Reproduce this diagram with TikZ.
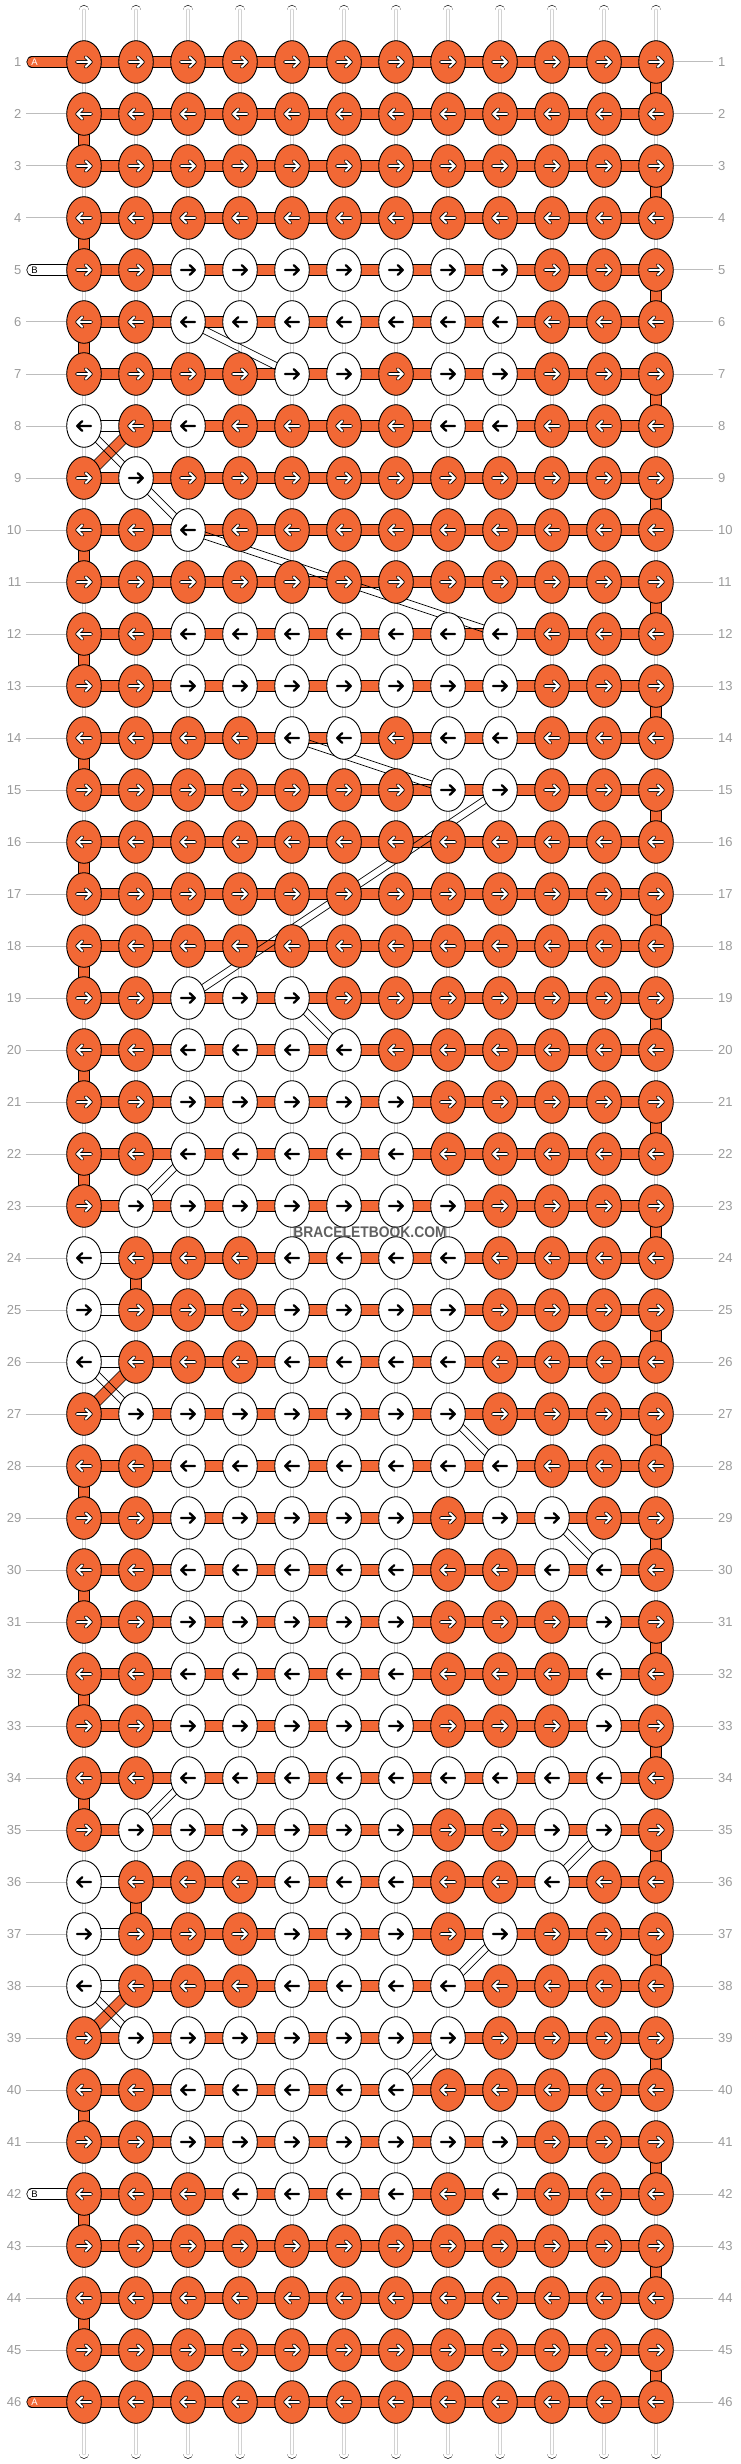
\documentclass[tikz,border=0pt]{standalone}
\usepackage{fontspec}
\setmainfont{Liberation Sans}
\usetikzlibrary{shapes.geometric,calc}
\definecolor{orng}{HTML}{F26835}
\definecolor{lblg}{HTML}{9A9A9A}
\definecolor{lineg}{HTML}{BDBDBD}
\definecolor{wmk}{HTML}{444444}
\pgfdeclarelayer{bg}
\pgfdeclarelayer{mid}
\pgfsetlayers{bg,mid,main}
\tikzset{
  knotO/.style={ellipse, draw=black, line width=0.9pt, fill=orng, minimum width=34.6pt, minimum height=42.6pt, inner sep=0pt},
  knotW/.style={ellipse, draw=black, line width=0.9pt, fill=white, minimum width=34.6pt, minimum height=42.6pt, inner sep=0pt},
  arrW/.style={draw=black, line width=2.3pt, line cap=round, line join=round},
  arrOut/.style={draw=black, line width=3.7pt, line cap=round, line join=round},
  arrIn/.style={draw=white, line width=2.0pt, line cap=round, line join=round},
  warp/.style={draw=black, line width=0.7pt, double=white, double distance=9.2pt},
  warpin/.style={draw=gray!35, line width=0.5pt, double=white, double distance=2.4pt},
  obar/.style={draw=black, line width=0.8pt, double=orng, double distance=9.6pt},
  wbar/.style={draw=black, line width=0.8pt, double=white, double distance=9.6pt},
  dline/.style={draw=black, line width=0.7pt},
  gline/.style={draw=lineg, line width=1pt},
  lab/.style={text=lblg, font=\fontsize{13}{15}\selectfont, inner sep=0pt},
  tabtxt/.style={font=\fontsize{9.5}{11}\selectfont, inner sep=0pt},
}
\begin{document}
\begin{tikzpicture}[x=1pt,y=-1pt]
\useasboundingbox (0,0) rectangle (740,2464);
% knots
\foreach \pat [count=\ri] in {
{0,0,0,0,0,0,0,0,0,0,0,0},
{0,0,0,0,0,0,0,0,0,0,0,0},
{0,0,0,0,0,0,0,0,0,0,0,0},
{0,0,0,0,0,0,0,0,0,0,0,0},
{0,0,1,1,1,1,1,1,1,0,0,0},
{0,0,1,1,1,1,1,1,1,0,0,0},
{0,0,0,0,1,1,0,1,1,0,0,0},
{1,0,1,0,0,0,0,1,1,0,0,0},
{0,1,0,0,0,0,0,0,0,0,0,0},
{0,0,1,0,0,0,0,0,0,0,0,0},
{0,0,0,0,0,0,0,0,0,0,0,0},
{0,0,1,1,1,1,1,1,1,0,0,0},
{0,0,1,1,1,1,1,1,1,0,0,0},
{0,0,0,0,1,1,0,1,1,0,0,0},
{0,0,0,0,0,0,0,1,1,0,0,0},
{0,0,0,0,0,0,0,0,0,0,0,0},
{0,0,0,0,0,0,0,0,0,0,0,0},
{0,0,0,0,0,0,0,0,0,0,0,0},
{0,0,1,1,1,0,0,0,0,0,0,0},
{0,0,1,1,1,1,0,0,0,0,0,0},
{0,0,1,1,1,1,1,0,0,0,0,0},
{0,0,1,1,1,1,1,0,0,0,0,0},
{0,1,1,1,1,1,1,1,0,0,0,0},
{1,0,0,0,1,1,1,1,0,0,0,0},
{1,0,0,0,1,1,1,1,0,0,0,0},
{1,0,0,0,1,1,1,1,0,0,0,0},
{0,1,1,1,1,1,1,1,0,0,0,0},
{0,0,1,1,1,1,1,1,1,0,0,0},
{0,0,1,1,1,1,1,0,1,1,0,0},
{0,0,1,1,1,1,1,0,0,1,1,0},
{0,0,1,1,1,1,1,0,0,0,1,0},
{0,0,1,1,1,1,1,0,0,0,1,0},
{0,0,1,1,1,1,1,0,0,0,1,0},
{0,0,1,1,1,1,1,1,1,1,1,0},
{0,1,1,1,1,1,1,0,0,1,1,0},
{1,0,0,0,1,1,1,0,0,1,0,0},
{1,0,0,0,1,1,1,0,1,0,0,0},
{1,0,0,0,1,1,1,1,0,0,0,0},
{0,1,1,1,1,1,1,1,0,0,0,0},
{0,0,1,1,1,1,1,0,0,0,0,0},
{0,0,1,1,1,1,1,1,1,0,0,0},
{0,0,0,1,1,1,1,0,1,0,0,0},
{0,0,0,0,0,0,0,0,0,0,0,0},
{0,0,0,0,0,0,0,0,0,0,0,0},
{0,0,0,0,0,0,0,0,0,0,0,0},
{0,0,0,0,0,0,0,0,0,0,0,0}} {
  \foreach \kk [count=\ci] in \pat {
    \pgfmathsetmacro\xx{84+52*(\ci-1)}
    \pgfmathsetmacro\yy{62+52*(\ri-1)}
    \ifodd\ri\relax \def\sg{1}\else\def\sg{-1}\fi
    \ifnum\kk=1\relax
      \node[knotW] (k-\ri-\ci) at (\xx,\yy) {};
      \begin{scope}[shift={(k-\ri-\ci.center)}, xscale=\sg]
        \draw[arrW] (-7,0) -- (6.5,0) (1.8,-4.8) -- (6.8,0) -- (1.8,4.8);
      \end{scope}
    \else
      \node[knotO] (k-\ri-\ci) at (\xx,\yy) {};
      \begin{scope}[shift={(k-\ri-\ci.center)}, xscale=\sg]
        \draw[arrOut] (-7,0) -- (6.5,0) (1.8,-4.8) -- (6.8,0) -- (1.8,4.8);
        \draw[arrIn] (-7,0) -- (6.5,0) (1.8,-4.8) -- (6.8,0) -- (1.8,4.8);
      \end{scope}
    \fi
  }
}
\begin{pgfonlayer}{bg}
% top and bottom string ends
\foreach \ci in {1,...,12} {
  \pgfmathsetmacro\xx{84+52*(\ci-1)}
  \coordinate (top-\ci) at (\xx,10.3);
  \coordinate (bot-\ci) at (\xx,2453.5);
  \draw[warp, line cap=round] (top-\ci) -- (k-1-\ci.center);
  \draw[warpin, line cap=round] (top-\ci) -- (k-1-\ci.center);
  \draw[warp, line cap=round] (bot-\ci) -- (k-46-\ci.center);
  \draw[warpin, line cap=round] (bot-\ci) -- (k-46-\ci.center);
}
% vertical warp segments
\foreach \ri in {1,...,45} {
  \pgfmathtruncatemacro\rn{\ri+1}
  \foreach \ci in {1,...,12} {
    \draw[warp] (k-\ri-\ci.center) -- (k-\rn-\ci.center);
    \draw[warpin] (k-\ri-\ci.center) -- (k-\rn-\ci.center);
  }
}
% horizontal bars
\foreach \ri in {1,...,46} {
  \foreach \ci in {1,...,11} {
    \pgfmathtruncatemacro\cn{\ci+1}
    \draw[obar] (k-\ri-\ci.center) -- (k-\ri-\cn.center);
  }
}
\foreach \ri in {8,24,25,26,36,37,38} {
  \draw[wbar] (k-\ri-1.center) -- (k-\ri-2.center);
}
% turning segments of thread A
\foreach \ri in {1,3,...,45} {
  \pgfmathtruncatemacro\rn{\ri+1}
  \draw[obar] (k-\ri-12.center) -- (k-\rn-12.center);
}
\foreach \ri in {2,4,6,10,12,14,16,18,20,22,28,30,32,34,40,42,44} {
  \pgfmathtruncatemacro\rn{\ri+1}
  \draw[obar] (k-\ri-1.center) -- (k-\rn-1.center);
}
\foreach \ri in {24,36} {
  \pgfmathtruncatemacro\rn{\ri+1}
  \draw[obar] (k-\ri-2.center) -- (k-\rn-2.center);
}
\foreach \ri in {8,26,38} {
  \pgfmathtruncatemacro\rn{\ri+1}
  \draw[obar] (k-\ri-2.center) -- (k-\rn-1.center);
}
% tabs
\coordinate (tabA1) at (32,62);
\coordinate (tabA46) at (32,2402);
\coordinate (tabB5) at (32,270);
\coordinate (tabB42) at (32,2194);
\draw[obar, line cap=round] (tabA1) -- (k-1-1.center);
\draw[obar, line cap=round] (tabA46) -- (k-46-1.center);
\draw[wbar, line cap=round] (tabB5) -- (k-5-1.center);
\draw[wbar, line cap=round] (tabB42) -- (k-42-1.center);
\node[tabtxt, text=white] (tA1) at (34.5,62) {A};
\node[tabtxt, text=white] (tA46) at (34.5,2402) {A};
\node[tabtxt, text=black] (tB5) at (34.5,270) {B};
\node[tabtxt, text=black] (tB42) at (34.5,2194) {B};
% row numbers and guide lines
\foreach \ri in {1,...,46} {
  \pgfmathsetmacro\yy{62+52*(\ri-1)}
  \coordinate (gr-\ri) at (713,\yy);
  \draw[gline] (k-\ri-12) -- (gr-\ri);
  \node[lab, anchor=west] (nr-\ri) at (718,\yy) {\ri};
  \node[lab, anchor=east] (nl-\ri) at (21.5,\yy) {\ri};
}
\foreach \ri in {2,3,4,6,7,...,41,43,44,45} {
  \pgfmathsetmacro\yy{62+52*(\ri-1)}
  \coordinate (gl-\ri) at (26,\yy);
  \draw[gline] (gl-\ri) -- (k-\ri-1);
}
\end{pgfonlayer}
% carried thread B
\begin{pgfonlayer}{mid}
\foreach \a/\b in {6-3/7-5, 8-1/9-2, 9-2/10-3, 10-3/12-9, 14-5/15-8, 15-9/19-3,
  19-5/20-6, 22-3/23-2, 26-1/27-2, 27-8/28-9, 29-10/30-11, 34-3/35-2,
  35-11/36-10, 37-9/38-8, 38-1/39-2, 39-8/40-7} {
  \draw[dline] ($(k-\a.center)!3.5pt!90:(k-\b.center)$) -- ($(k-\b.center)!3.5pt!-90:(k-\a.center)$);
  \draw[dline] ($(k-\a.center)!3.5pt!-90:(k-\b.center)$) -- ($(k-\b.center)!3.5pt!90:(k-\a.center)$);
}
\end{pgfonlayer}
\node[text=wmk, opacity=0.85, inner sep=0pt, font=\fontsize{15.4}{18}\selectfont\bfseries] (wm) at (370,1232) {\scalebox{0.9}[1]{BRACELETBOOK.COM}};
\end{tikzpicture}
\end{document}
